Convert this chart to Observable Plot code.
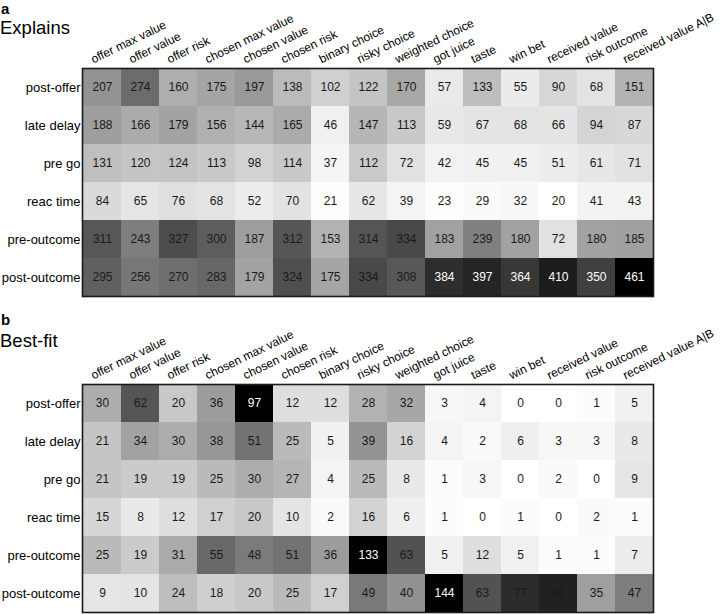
<!DOCTYPE html>
<html>
<head>
<meta charset="utf-8">
<script src="https://cdn.jsdelivr.net/npm/d3@7"></script>
<script src="https://cdn.jsdelivr.net/npm/@observablehq/plot@0.6"></script>
<style>
  body { margin: 0; background: #fff; font-family: "Liberation Sans", Arial, sans-serif; }
  #wrap { position: relative; width: 720px; height: 614px; overflow: hidden; }
  #wrap svg { display: block; }
  .ttl { position: absolute; left: 0; line-height: 1; color: #000; white-space: nowrap; }
  .letter { font-weight: bold; font-size: 15px; left: 1px; }
  .name { font-size: 18.5px; }
</style>
</head>
<body>
<div id="wrap">
  <div id="panelA"></div>
  <div id="panelB"></div>
  <div class="ttl letter" style="top:0.6px">a</div>
  <div class="ttl name" style="top:18.8px">Explains</div>
  <div class="ttl letter" style="top:312.3px">b</div>
  <div class="ttl name" style="top:331.8px">Best-fit</div>
</div>
<script>
const columns = ["offer max value", "offer value", "offer risk", "chosen max value", "chosen value",
  "chosen risk", "binary choice", "risky choice", "weighted choice", "got juice", "taste",
  "win bet", "received value", "risk outcome", "received value A|B"];
const rows = ["post-offer", "late delay", "pre go", "reac time", "pre-outcome", "post-outcome"];

const explains = [
  [207, 274, 160, 175, 197, 138, 102, 122, 170, 57, 133, 55, 90, 68, 151],
  [188, 166, 179, 156, 144, 165, 46, 147, 113, 59, 67, 68, 66, 94, 87],
  [131, 120, 124, 113, 98, 114, 37, 112, 72, 42, 45, 45, 51, 61, 71],
  [84, 65, 76, 68, 52, 70, 21, 62, 39, 23, 29, 32, 20, 41, 43],
  [311, 243, 327, 300, 187, 312, 153, 314, 334, 183, 239, 180, 72, 180, 185],
  [295, 256, 270, 283, 179, 324, 175, 334, 308, 384, 397, 364, 410, 350, 461]
];
const bestFit = [
  [30, 62, 20, 36, 97, 12, 12, 28, 32, 3, 4, 0, 0, 1, 5],
  [21, 34, 30, 38, 51, 25, 5, 39, 16, 4, 2, 6, 3, 3, 8],
  [21, 19, 19, 25, 30, 27, 4, 25, 8, 1, 3, 0, 2, 0, 9],
  [15, 8, 12, 17, 20, 10, 2, 16, 6, 1, 0, 1, 0, 2, 1],
  [25, 19, 31, 55, 48, 51, 36, 133, 63, 5, 12, 5, 1, 1, 7],
  [9, 10, 24, 18, 20, 25, 17, 49, 40, 144, 63, 77, 81, 35, 47]
];

// colour limits (white -> black) and white-text thresholds per panel
const explainsLimits = [20, 461];
const bestFitLimits = [0, 93];
const explainsWhiteAbove = 340;
const bestFitWhiteAbove = 90;

function toTable(matrix) {
  const out = [];
  matrix.forEach((r, i) => r.forEach((v, j) => out.push({row: rows[i], col: columns[j], value: v})));
  return out;
}

function panel(matrix, limits, whiteAbove, height, marginTop, marginBottom) {
  const data = toTable(matrix);
  return Plot.plot({
    width: 720,
    height,
    marginLeft: 82,
    marginRight: 67,
    marginTop,
    marginBottom,
    style: {fontFamily: "'Liberation Sans', Arial, sans-serif", background: "#fff", color: "#000"},
    x: {domain: columns, padding: 0, axis: null},
    y: {domain: rows, padding: 0},
    color: {type: "linear", domain: limits, range: ["#ffffff", "#000000"], interpolate: "rgb", clamp: true},
    marks: [
      Plot.cell(data, {x: "col", y: "row", fill: "value"}),
      Plot.text(data.filter(d => d.value <= whiteAbove), {x: "col", y: "row", text: d => String(d.value), fill: "#1a1a1a", fontSize: 12}),
      Plot.text(data.filter(d => d.value > whiteAbove), {x: "col", y: "row", text: d => String(d.value), fill: "#ffffff", fontSize: 12}),
      Plot.frame({stroke: "#1a1a1a", strokeWidth: 1.6}),
      Plot.axisY({tickSize: 0, tickPadding: 2, fontSize: 13, label: null}),
      Plot.text(columns, {x: d => d, frameAnchor: "top", rotate: -26, textAnchor: "start", lineAnchor: "bottom", dx: -9, dy: -5, fontSize: 12, fill: "#000"})
    ]
  });
}

document.getElementById("panelA").appendChild(panel(explains, explainsLimits, explainsWhiteAbove, 300, 68, 4));
document.getElementById("panelB").appendChild(panel(bestFit, bestFitLimits, bestFitWhiteAbove, 314, 84, 2));
</script>
</body>
</html>
